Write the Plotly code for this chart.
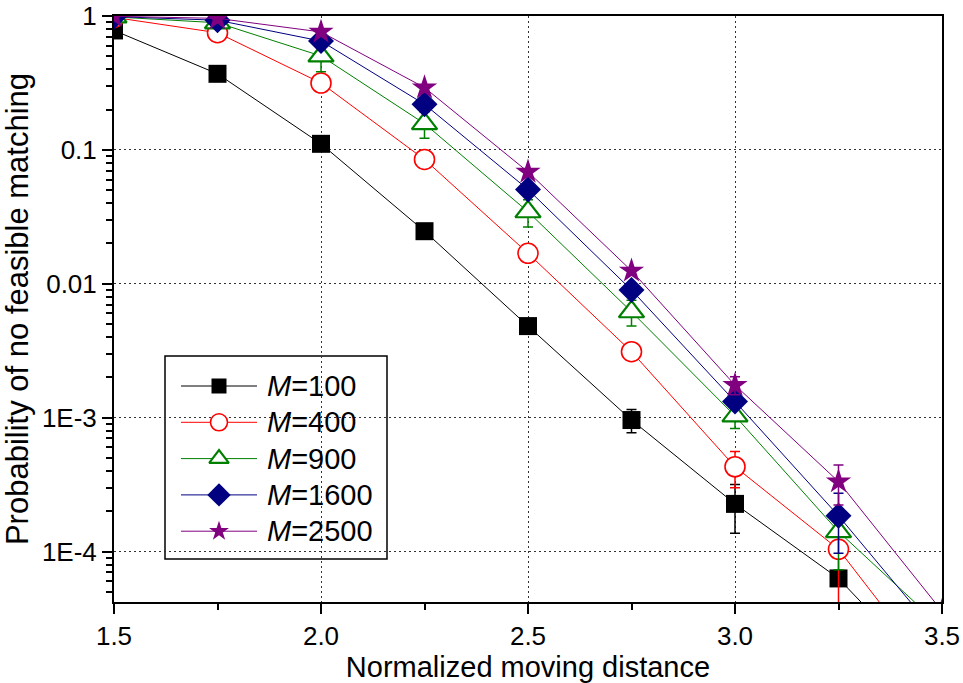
import numpy as np
import plotly.graph_objects as go

# Normalized moving distance (x) and probability of no feasible matching per M
distance = [1.5, 1.75, 2.0, 2.25, 2.5, 2.75, 3.0, 3.25, 3.5]

p_m100 = [0.78, 0.37, 0.111, 0.0247, 0.00483, 9.6e-4, 2.27e-4, 6.3e-5, 9.7e-6]
p_m400 = [0.976, 0.75, 0.316, 0.0848, 0.0169, 0.00311, 4.3e-4, 1.04e-4, 1.04e-5]
p_m900 = [0.985, 0.89, 0.503, 0.157, 0.0345, 0.00618, 1.03e-3, 1.41e-4, 2.71e-5]
p_m1600 = [0.99, 0.93, 0.65, 0.219, 0.0506, 0.00898, 1.32e-3, 1.85e-4, 2.19e-5]
p_m2500 = [0.995, 0.96, 0.76, 0.292, 0.0685, 0.0125, 1.75e-3, 3.33e-4, 3.59e-5]

# symmetric error bars (standard error of the simulations)
e_m100 = [0, 0, 0, 0, 0, 1.9e-4, 9e-5, 0, 0]
e_m400 = [0, 0, 0, 0, 0, 0, 1.3e-4, 7e-5, 0]
e_m900 = [0, 0, 0.12, 0.035, 0.008, 1.35e-3, 2e-4, 6.8e-5, 0]
e_m1600 = [0, 0, 0, 0, 0, 0, 0, 8.8e-5, 0]
e_m2500 = [0, 0, 0, 0, 0, 0, 2.7e-4, 1.1e-4, 0]

series_names = ["<i>M</i>=100", "<i>M</i>=400", "<i>M</i>=900", "<i>M</i>=1600", "<i>M</i>=2500"]

y_tick_vals = [1, 0.1, 0.01, 1e-3, 1e-4]
y_tick_text = ["1", "0.1", "0.01", "1E-3", "1E-4"]
x_tick_vals = [1.5, 2.0, 2.5, 3.0, 3.5]

FONT = "Liberation Sans, Arial, sans-serif"

styles = [
    dict(color="#000000", symbol="square", size=18, fill="#000000", lw=0, lsize=15),
    dict(color="#FF0000", symbol="circle", size=20, fill="#FFFFFF", lw=1.6, lsize=17),
    dict(color="#008000", symbol="triangle-up", size=22, fill="#FFFFFF", lw=2.2, lsize=17),
    dict(color="#000080", symbol="diamond", size=20, fill="#000080", lw=0, lsize=18),
    dict(color="#800080", symbol="star", size=19, fill="#800080", lw=0, lsize=15),
]

values = [p_m100, p_m400, p_m900, p_m1600, p_m2500]
errors = [e_m100, e_m400, e_m900, e_m1600, e_m2500]

# figure / plot-area geometry in pixels
W, H = 963, 683
ML, MR, MT, MB = 114, 21, 16, 81
PW, PH = W - ML - MR, H - MT - MB


def px_x(px):
    return (px - ML) / PW


def px_y(py):
    return (H - MB - py) / PH


fig = go.Figure()
for name, vals, errs, st in zip(series_names, values, errors, styles):
    fig.add_trace(go.Scatter(
        x=distance, y=vals, name=name, mode="lines+markers", showlegend=False,
        line=dict(color=st["color"], width=1),
        marker=dict(symbol=st["symbol"], size=st["size"], color=st["fill"], opacity=1,
                    line=dict(color=st["color"], width=st["lw"])),
        error_y=dict(type="data", array=errs, visible=True,
                     color=st["color"], thickness=1.5, width=5),
    ))

# legend box, drawn above the grid and below the data
LEG_L, LEG_R, LEG_T, LEG_B = 165, 387, 356, 559
ROW0, ROW_STEP = 386, 36.3
LINE_L, LINE_R, TEXT_X = 181, 257, 265

shapes = [dict(type="rect", xref="paper", yref="paper", layer="between",
               x0=px_x(LEG_L), x1=px_x(LEG_R), y0=px_y(LEG_B), y1=px_y(LEG_T),
               fillcolor="white", line=dict(color="black", width=1.5))]
annotations = []
for i, (name, st) in enumerate(zip(series_names, styles)):
    ry = px_y(ROW0 + i * ROW_STEP)
    fig.add_trace(go.Scatter(
        x=[px_x(LINE_L), px_x((LINE_L + LINE_R) / 2), px_x(LINE_R)], y=[ry, ry, ry],
        xaxis="x2", yaxis="y2", mode="lines+markers", showlegend=False,
        hoverinfo="skip", cliponaxis=False,
        line=dict(color=st["color"], width=1),
        marker=dict(symbol=st["symbol"], size=[0, st["lsize"], 0], color=st["fill"], opacity=1,
                    line=dict(color=st["color"], width=[0, st["lw"], 0])),
    ))
    annotations.append(dict(xref="paper", yref="paper", x=px_x(TEXT_X), y=ry,
                            xanchor="left", yanchor="middle", text=name, showarrow=False,
                            font=dict(family=FONT, size=29, color="black")))

# minor log ticks between decades
minor_vals = [m * 10.0 ** d for d in range(-5, 0) for m in range(2, 10)]

GRID_DASH = "2px,3px"

fig.update_layout(
    width=W, height=H,
    margin=dict(l=ML, r=MR, t=MT, b=MB),
    paper_bgcolor="white", plot_bgcolor="white",
    font=dict(family=FONT, size=26, color="black"),
    showlegend=False,
    shapes=shapes, annotations=annotations,
    xaxis=dict(
        range=[1.5, 3.5], tickmode="array", tickvals=x_tick_vals, tickformat=".1f",
        ticks="outside", ticklen=10, tickwidth=1.5, tickcolor="black",
        minor=dict(ticks="outside", ticklen=6, tickwidth=1.5, tickcolor="black",
                   dtick=0.25, tick0=1.5, showgrid=False),
        showline=True, linecolor="black", linewidth=2, mirror=True,
        showgrid=True, gridcolor="#333333", griddash=GRID_DASH, gridwidth=1,
        zeroline=False, automargin=False,
        title=dict(text="Normalized moving distance", font=dict(size=29), standoff=8),
        tickfont=dict(size=26),
    ),
    yaxis=dict(
        type="log", range=[np.log10(4.2e-5), 0],
        tickmode="array", tickvals=y_tick_vals, ticktext=y_tick_text,
        ticks="outside", ticklen=10, tickwidth=1.5, tickcolor="black",
        minor=dict(ticks="outside", ticklen=6, tickwidth=1.5, tickcolor="black",
                   tickmode="array", tickvals=minor_vals, showgrid=False),
        showline=True, linecolor="black", linewidth=2, mirror=True,
        showgrid=True, gridcolor="#333333", griddash=GRID_DASH, gridwidth=1,
        zeroline=False, automargin=False,
        title=dict(text="Probability of no feasible matching", font=dict(size=31), standoff=6),
        tickfont=dict(size=26),
    ),
    xaxis2=dict(overlaying="x", range=[0, 1], visible=False, fixedrange=True),
    yaxis2=dict(overlaying="y", range=[0, 1], visible=False, fixedrange=True),
)

fig.write_html("out.html")
